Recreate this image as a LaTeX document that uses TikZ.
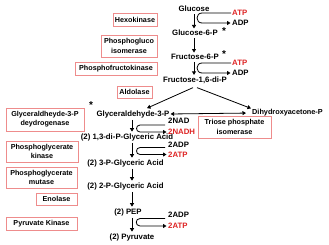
\documentclass[tikz,border=0pt]{standalone}
\usepackage{fontspec}
\setmainfont{Liberation Sans}
\usetikzlibrary{arrows.meta,calc}
\definecolor{boxred}{RGB}{238,140,140}
\definecolor{atpred}{RGB}{222,35,35}
\begin{document}
\begin{tikzpicture}[x=1pt,y=-1pt,
  lbl/.style={font=\fontsize{7.8}{9}\selectfont\bfseries, inner sep=0pt},
  side/.style={lbl, anchor=west},
  redlbl/.style={side, text=atpred},
  enz/.style={draw=boxred, line width=0.9pt, fill=white, font=\fontsize{7.2}{9.2}\selectfont\bfseries, align=center, inner sep=0pt},
  arr/.style={-{Triangle[length=3.5pt,width=4pt]}, line width=0.8pt},
  darr/.style={{Triangle[length=3.5pt,width=4pt]}-{Triangle[length=3.5pt,width=4pt]}, line width=0.8pt},
  starlbl/.style={font=\fontsize{10}{10}\selectfont\bfseries, inner sep=0pt, anchor=north}]
\useasboundingbox[fill=white] (0,0) rectangle (329,244);
\coordinate (ux) at (194,0);
\coordinate (lx) at (132,0);
% enzyme boxes
\node[enz, minimum width=44pt, minimum height=13pt] (hk) at (135,19.5) {Hexokinase};
\node[enz, minimum width=56pt, minimum height=22pt] (pgi) at (129,46) {Phosphogluco\\isomerase};
\node[enz, minimum width=82pt, minimum height=13pt] (pfk) at (116,68.5) {Phosphofructokinase};
\node[enz, minimum width=35pt, minimum height=12pt] (ald) at (134.5,92) {Aldolase};
\node[enz, minimum width=78pt, minimum height=23pt] (gapdh) at (45,119.5) {Glyceraldheyde-3-P\\deydrogenase};
\node[enz, minimum width=72pt, minimum height=21pt] (pgk) at (42,151.5) {Phosphoglycerate\\kinase};
\node[enz, minimum width=71pt, minimum height=21pt] (pgm) at (41.5,177.5) {Phosphoglycerate\\mutase};
\node[enz, minimum width=41pt, minimum height=12pt] (eno) at (56.5,199) {Enolase};
\node[enz, minimum width=71pt, minimum height=13pt] (pk) at (41.5,223.5) {Pyruvate Kinase};
\node[enz, minimum width=73pt, minimum height=22pt] (tpi) at (234.5,127) {Triose phosphate\\isomerase};
% metabolites
\node[lbl] (glc) at (194,9) {Glucose};
\node[lbl] (g6p) at (195,33) {Glucose-6-P};
\node[lbl] (f6p) at (195,57) {Fructose-6-P};
\node[lbl] (fdp) at (195,80) {Fructose-1,6-di-P};
\node[lbl] (gap) at (133,114) {Glyceraldehyde-3-P};
\node[side, font=\fontsize{7.3}{9}\selectfont\bfseries] (dhap) at (252,113) {Dihydroxyacetone-P};
\node[lbl] (bpg) at (127,137) {(2) 1,3-di-P-Glyceric Acid};
\node[lbl] (pg3) at (125.5,163) {(2) 3-P-Glyceric Acid};
\node[lbl] (pg2) at (125.5,186) {(2) 2-P-Glyceric Acid};
\node[lbl] (pep) at (128,212) {(2) PEP};
\node[lbl] (pyr) at (132,237) {(2) Pyruvate};
% stars
\node[starlbl] (s1) at (224,27.5) {*};
\node[starlbl] (s2) at (224,50.5) {*};
\node[starlbl] (s3) at (91,101.5) {*};
% cofactors
\node[redlbl] (atp1) at (232,13) {ATP};
\node[side] (adp1) at (232,23) {ADP};
\node[redlbl] (atp2) at (232,63) {ATP};
\node[side] (adp2) at (232,73) {ADP};
\node[side] (nad) at (168,121) {2NAD};
\node[redlbl] (nadh) at (168,132) {2NADH};
\node[side] (adp3) at (168,144.5) {2ADP};
\node[redlbl] (atp3) at (168,154.5) {2ATP};
\node[side] (adp4) at (168,215) {2ADP};
\node[redlbl] (atp4) at (168,226) {2ATP};
% main arrows
\draw[arr, shorten <=2pt, shorten >=1.5pt] (glc.south -| ux) -- (g6p.north -| ux);
\draw[arr, shorten <=2pt, shorten >=1.5pt] (g6p.south -| ux) -- (f6p.north -| ux);
\draw[arr, shorten <=2pt, shorten >=1.5pt] (f6p.south -| ux) -- (fdp.north -| ux);
\draw[arr, shorten <=2pt, shorten >=1.5pt] (gap.south -| lx) -- (bpg.north -| lx);
\draw[arr, shorten <=2pt, shorten >=1.5pt] (bpg.south -| lx) -- (pg3.north -| lx);
\draw[arr, shorten <=2pt, shorten >=1.5pt] (pg3.south -| lx) -- (pg2.north -| lx);
\draw[arr, shorten <=2pt, shorten >=1.5pt] (pg2.south -| lx) -- (pep.north -| lx);
\draw[arr, shorten <=2pt, shorten >=1.5pt] (pep.south -| lx) -- (pyr.north -| lx);
% split
\draw[arr] ($(fdp.south)+(-2,4)$) -- ($(gap.north)+(14,-2)$);
\draw[arr] ($(fdp.south)+(2,4)$) -- ($(dhap.north west)+(-1,-1)$);
\draw[darr, shorten <=1pt, shorten >=6pt] (gap.east) -- (dhap.west);
% cofactor loops
\draw[arr] ($(atp1.west)+(-1,0)$) -- ++(-29,0) to[out=180,in=180,looseness=1.7] ++(0,10) -- ($(adp1.west)+(-1.5,0)$);
\draw[arr] ($(atp2.west)+(-1,0)$) -- ++(-29,0) to[out=180,in=180,looseness=1.7] ++(0,10) -- ($(adp2.west)+(-1.5,0)$);
\draw[arr] ($(nad.west)+(-3,4)$) -- ++(-25,0) to[out=180,in=180,looseness=1.7] ++(0,7) -- ($(nadh.west)+(-1.5,0)$);
\draw[arr] ($(adp3.west)+(-3,3)$) -- ++(-25,0) to[out=180,in=180,looseness=1.7] ++(0,7) -- ($(atp3.west)+(-1.5,0)$);
\draw[arr] ($(adp4.west)+(-3,3.5)$) -- ++(-25,0) to[out=180,in=180,looseness=1.7] ++(0,7.5) -- ($(atp4.west)+(-1.5,0)$);
\end{tikzpicture}
\end{document}
